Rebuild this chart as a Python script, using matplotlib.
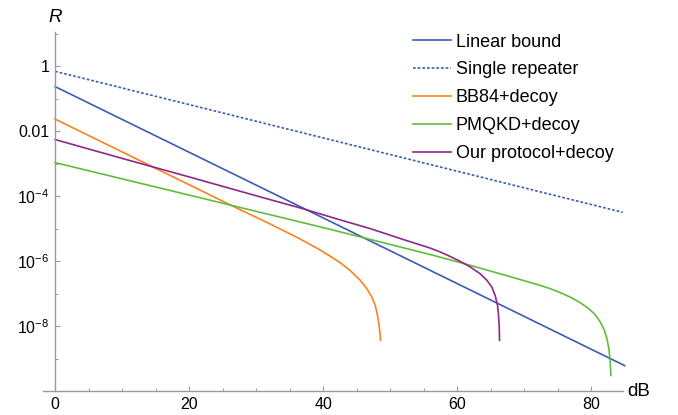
import numpy as np
import matplotlib
matplotlib.use('Agg')
import matplotlib.pyplot as plt
from matplotlib.ticker import FixedLocator, FixedFormatter

plt.rcParams['font.family'] = ['Liberation Sans', 'DejaVu Sans']
plt.rcParams['mathtext.fontset'] = 'custom'
plt.rcParams['mathtext.rm'] = 'Liberation Sans'
plt.rcParams['mathtext.it'] = 'Liberation Sans:italic'

# values, as log10(R) against loss in dB
linear_x = [0, 85]
linear_log = [-0.63, -9.22]

single_x = [0, 84.7]
single_log = [-0.16, -4.50]

bb84_x = [0, 10, 20, 26, 32, 36, 38.06, 39.55, 41.04, 42.54, 44.03, 45.52, 46.52,
          47.26, 47.76, 48.11, 48.36, 48.51, 48.56]
bb84_log = [-1.63, -2.64, -3.65, -4.26, -4.85, -5.26, -5.49, -5.66, -5.85, -6.05, -6.29,
            -6.59, -6.85, -7.11, -7.36, -7.67, -7.98, -8.29, -8.44]

pmqkd_x = [0, 20, 40, 56, 61.4, 67.4, 70.9, 72.39, 73.88, 75.37, 76.87, 78.36, 79.6,
           80.6, 81.34, 81.94, 82.34, 82.64, 82.84, 82.94]
pmqkd_log = [-2.97, -3.97, -4.97, -5.8, -6.1, -6.45, -6.66, -6.75, -6.85, -6.97, -7.11,
             -7.28, -7.46, -7.65, -7.87, -8.12, -8.38, -8.70, -9.11, -9.52]

ours_x = [0, 10, 20, 30, 37, 42, 47, 52, 55.97, 57.46, 58.96, 60.45, 61.94, 63.43,
          64.43, 65.17, 65.67, 66.02, 66.17, 66.27, 66.32]
ours_log = [-2.26, -2.84, -3.41, -3.99, -4.39, -4.70, -5.0, -5.34, -5.60, -5.72, -5.86,
            -6.01, -6.18, -6.39, -6.59, -6.80, -7.06, -7.36, -7.67, -7.98, -8.44]

labels = ['Linear bound', 'Single repeater', 'BB84+decoy', 'PMQKD+decoy', 'Our protocol+decoy']
colors = ['#3b5bb5', '#3b5bb5', '#ff8020', '#62bc3c', '#8b2a88']

xticks = [0, 20, 40, 60, 80]
xticks_minor = [5, 10, 15, 25, 30, 35, 45, 50, 55, 65, 70, 75, 85]
yticks_major = [1, 1e-2, 1e-4, 1e-6, 1e-8]
ytick_labels = ['1', '0.01', r'$10^{-4}$', r'$10^{-6}$', r'$10^{-8}$']
yticks_minor = [10, 1e-1, 1e-3, 1e-5, 1e-7, 1e-9]

fig = plt.figure(figsize=(6.78, 4.15), dpi=100)
ax = fig.add_axes([43/678, 24/415, 579.7/678, 359/415])

series = [(linear_x, linear_log), (single_x, single_log), (bb84_x, bb84_log),
          (pmqkd_x, pmqkd_log), (ours_x, ours_log)]
for i, (xs, ls) in enumerate(series):
    ys = 10.0 ** np.array(ls)
    if i == 1:
        ax.plot(xs, ys, color=colors[i], lw=1.2, dashes=(1.6, 1.2), label=labels[i])
    else:
        ax.plot(xs, ys, color=colors[i], lw=1.2, label=labels[i], clip_on=False)

ax.set_yscale('log')
ax.set_xlim(-1.8, 84.7)
ax.set_ylim(1e-10, 10 ** 1.05)

for s in ['top', 'right']:
    ax.spines[s].set_visible(False)
ax.spines['left'].set_position(('data', 0))
for s in ['left', 'bottom']:
    ax.spines[s].set_color('#9a9a9a')
    ax.spines[s].set_linewidth(1.0)

ax.xaxis.set_major_locator(FixedLocator(xticks))
ax.xaxis.set_minor_locator(FixedLocator(xticks_minor))
ax.yaxis.set_major_locator(FixedLocator(yticks_major))
ax.yaxis.set_major_formatter(FixedFormatter(ytick_labels))
ax.yaxis.set_minor_locator(FixedLocator(yticks_minor))
ax.yaxis.set_minor_formatter(FixedFormatter([''] * len(yticks_minor)))

ax.tick_params(which='major', direction='in', length=3.5, width=0.8, color='#9a9a9a',
               labelsize=11.5, pad=4)
ax.tick_params(which='minor', direction='in', length=2, width=0.7, color='#9a9a9a')

ax.text(1.008, 0.0, 'dB', transform=ax.transAxes, fontsize=13.5, va='center', ha='left')
ax.text(0, 10 ** 1.5, '$R$', fontsize=13.5, ha='center', va='center')

ax.legend(loc='upper left', bbox_to_anchor=(400/678, 1 - 21/415), bbox_transform=fig.transFigure,
          frameon=False, fontsize=13, handlelength=2.1, handletextpad=0.28,
          labelspacing=0.6, borderpad=0.2)

fig.savefig('out.png', dpi=100)
